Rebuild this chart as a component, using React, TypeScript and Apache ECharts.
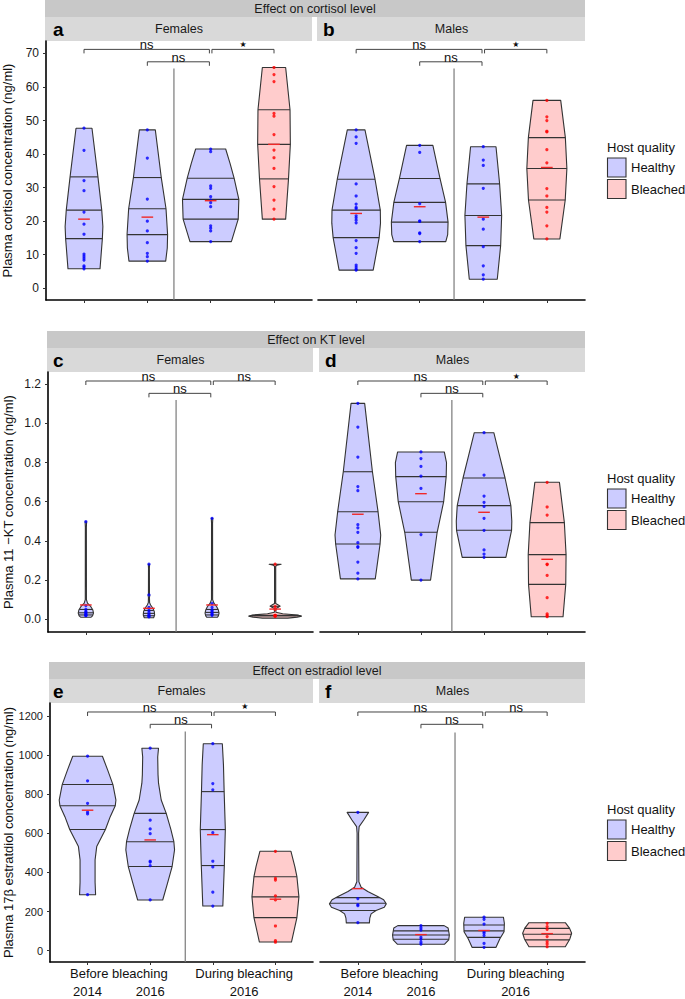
import React, { useEffect, useRef } from 'react';
import * as echarts from 'echarts';

// ---------------- data ----------------
const groupX = [1, 2, 3, 4];
const groupQuality = ['Healthy', 'Healthy', 'Healthy', 'Bleached'];
const hostQuality = ['Healthy', 'Bleached'];
const periodLabels = ['Before bleaching', 'During bleaching'];
const periodX = [1.5, 3.5];
const yearLabels = ['2014', '2016', '2016'];
const yearX = [1, 2, 3.5];
const rowTitles = ['Effect on cortisol level', 'Effect on KT level', 'Effect on estradiol level'];
const sexLabels = ['Females', 'Males'];
const panelLetters = ['a', 'b', 'c', 'd', 'e', 'f'];
const yTitles = [
  'Plasma cortisol concentration (ng/ml)',
  'Plasma 11 \u2212KT concentration (ng/ml)',
  'Plasma 17\u03b2 estratdiol concentration (ng/ml)',
];
const cortisolTicks = [0, 10, 20, 30, 40, 50, 60, 70];
const ktTicks = [0, 0.2, 0.4, 0.6, 0.8, 1.0, 1.2];
const estradiolTicks = [0, 200, 400, 600, 800, 1000, 1200];
const cortisolRange = [-3.5, 73.7];
const ktRange = [-0.065, 1.262];
const estradiolRange = [-58, 1266];

// violin outlines: [value, half width (x units)] from top to bottom
const cortisolFemaleOutline = [
  [[47.7, 0.126], [33.2, 0.22], [23.3, 0.28], [18.4, 0.298], [14.8, 0.29], [5.8, 0.253]],
  [[47.2, 0.126], [33.0, 0.22], [23.7, 0.295], [16.0, 0.32], [12.0, 0.315], [8.1, 0.29]],
  [[41.5, 0.237], [37.2, 0.306], [32.8, 0.37], [26.5, 0.445], [20.6, 0.435], [13.9, 0.327]],
  [[65.8, 0.184], [53.2, 0.253], [42.9, 0.258], [32.6, 0.229], [20.6, 0.184]],
];
const cortisolFemaleQuartiles = [[14.8, 23.3, 33.2], [16.0, 23.7, 33.0], [20.6, 26.5, 32.8], [32.6, 42.9, 53.2]];
const cortisolFemaleMeans = [20.6, 21.2, 26.1, 42.9];
const cortisolFemalePoints = [
  [47.7, 41.1, 32.1, 29.1, 22.7, 19.1, 16.1, 10.2, 9.6, 9.0, 8.4, 6.7, 6.3, 5.8],
  [47.2, 38.8, 26.6, 20.0, 17.1, 13.6, 10.4, 9.4, 8.1],
  [41.5, 40.7, 30.5, 29.8, 27.3, 26.3, 25.5, 24.3, 18.6, 17.9, 17.1, 13.9],
  [65.8, 63.7, 61.6, 52.1, 51.3, 45.8, 41.2, 38.9, 35.7, 30.3, 26.3, 23.6, 20.6],
];
const cortisolFemaleBrackets = [[1, 2.98, 71.2, 'ns'], [2, 2.98, 67.5, 'ns'], [3.02, 4, 71.2, '\u2605']];
const cortisolFemaleSeparator = [2.42, 65.5];

const cortisolMaleOutline = [
  [[47.2, 0.139], [32.5, 0.297], [23.3, 0.38], [19.4, 0.383], [15.1, 0.362], [5.4, 0.268]],
  [[42.6, 0.207], [32.7, 0.32], [25.6, 0.407], [19.7, 0.446], [16.0, 0.44], [13.9, 0.41]],
  [[42.2, 0.2], [31.1, 0.257], [21.7, 0.289], [12.7, 0.273], [2.7, 0.22]],
  [[56.0, 0.218], [44.9, 0.291], [35.7, 0.315], [26.3, 0.289], [14.7, 0.205]],
];
const cortisolMaleQuartiles = [[15.1, 23.3, 32.5], [19.7, 25.6, 32.7], [12.7, 21.7, 31.1], [26.3, 35.7, 44.9]];
const cortisolMaleMeans = [22.3, 24.3, 21.2, 36.0];
const cortisolMalePoints = [
  [47.2, 45.1, 43.2, 31.1, 27.5, 25.1, 24.1, 23.7, 21.6, 21.0, 20.3, 19.5, 14.2, 12.1, 10.4, 6.9, 6.3, 5.7, 5.4],
  [42.6, 40.5, 25.2, 20.1, 19.9, 16.5, 16.3, 13.9],
  [42.2, 38.2, 36.6, 29.8, 20.6, 17.6, 12.4, 6.7, 4.0, 2.7],
  [56.0, 51.1, 50.0, 46.8, 46.6, 41.3, 37.4, 29.7, 27.5, 24.1, 22.7, 18.6, 14.7],
];
const cortisolMaleBrackets = [[1, 2.98, 71.2, 'ns'], [2, 2.98, 67.5, 'ns'], [3.02, 4, 71.2, '\u2605']];
const cortisolMaleSeparator = [2.54, 65.5];

const ktFemaleOutline = [
  [[0.498, 0.012], [0.47, 0.008], [0.1, 0.009], [0.082, 0.026], [0.064, 0.079], [0.047, 0.111], [0.031, 0.121], [0.017, 0.106], [0.01, 0.079]],
  [[0.281, 0.01], [0.26, 0.007], [0.13, 0.008], [0.12, 0.012], [0.11, 0.008], [0.085, 0.01], [0.073, 0.026], [0.056, 0.063], [0.039, 0.085], [0.022, 0.09], [0.008, 0.074]],
  [[0.515, 0.012], [0.49, 0.008], [0.1, 0.009], [0.082, 0.03], [0.064, 0.074], [0.047, 0.1], [0.031, 0.111], [0.017, 0.1], [0.01, 0.085]],
  [[0.281, 0.095], [0.276, 0.03], [0.27, 0.009], [0.08, 0.009], [0.073, 0.05], [0.067, 0.08], [0.061, 0.05], [0.055, 0.012], [0.036, 0.012], [0.028, 0.12], [0.022, 0.35], [0.016, 0.418], [0.011, 0.35], [0.006, 0.2]],
];
const ktFemaleQuartiles = [[0.022, 0.033, 0.05], [0.018, 0.03, 0.045], [0.022, 0.035, 0.05], [0.017, 0.02, 0.066]];
const ktFemaleMeans = [0.073, 0.056, 0.073, 0.052];
const ktFemalePoints = [
  [0.498, 0.07, 0.05, 0.04, 0.035, 0.03, 0.025, 0.02, 0.02, 0.018],
  [0.281, 0.124, 0.06, 0.045, 0.035, 0.025, 0.02, 0.015, 0.012],
  [0.515, 0.08, 0.06, 0.045, 0.04, 0.03, 0.025, 0.02],
  [0.281, 0.065, 0.05, 0.02, 0.02, 0.018, 0.016, 0.015],
];
const ktFemaleBrackets = [[1, 2.98, 1.216, 'ns'], [2, 2.98, 1.153, 'ns'], [3.02, 4, 1.216, 'ns']];
const ktFemaleSeparator = [2.43, 1.119];

const ktMaleOutline = [
  [[1.102, 0.108], [0.753, 0.231], [0.549, 0.32], [0.43, 0.362], [0.384, 0.352], [0.206, 0.276]],
  [[0.854, 0.37], [0.8, 0.405], [0.728, 0.4], [0.6, 0.36], [0.444, 0.257], [0.2, 0.152]],
  [[0.952, 0.155], [0.838, 0.243], [0.721, 0.333], [0.58, 0.425], [0.5, 0.44], [0.454, 0.436], [0.316, 0.346]],
  [[0.699, 0.195], [0.493, 0.273], [0.33, 0.3], [0.178, 0.295], [0.013, 0.252]],
];
const ktMaleQuartiles = [[0.384, 0.549, 0.753], [0.444, 0.6, 0.728], [0.454, 0.58, 0.721], [0.178, 0.33, 0.493]];
const ktMaleMeans = [0.536, 0.641, 0.546, 0.306];
const ktMalePoints = [
  [1.102, 0.981, 0.828, 0.677, 0.656, 0.483, 0.467, 0.444, 0.391, 0.371, 0.367, 0.292, 0.235, 0.206],
  [0.854, 0.82, 0.78, 0.731, 0.668, 0.432, 0.2],
  [0.952, 0.736, 0.629, 0.597, 0.576, 0.515, 0.454, 0.354, 0.333, 0.316],
  [0.699, 0.573, 0.532, 0.281, 0.279, 0.224, 0.11, 0.027, 0.018, 0.013],
];
const ktMaleBrackets = [[1, 2.98, 1.216, 'ns'], [2, 2.98, 1.153, 'ns'], [3.02, 4, 1.216, '\u2605']];
const ktMaleSeparator = [2.49, 1.119];

const estradiolFemaleOutline = [
  [[994, 0.237], [924, 0.32], [849, 0.405], [770, 0.453], [741, 0.442], [685, 0.362], [619, 0.285], [532, 0.146], [464, 0.12], [350, 0.12], [286, 0.128]],
  [[1035, 0.133], [990, 0.12], [900, 0.125], [856, 0.133], [770, 0.176], [702, 0.256], [620, 0.33], [557, 0.378], [515, 0.389], [430, 0.35], [345, 0.277], [259, 0.2]],
  [[1058, 0.152], [950, 0.17], [813, 0.181], [619, 0.2], [435, 0.184], [228, 0.16]],
  [[508, 0.248], [430, 0.31], [378, 0.343], [275, 0.375], [169, 0.343], [44, 0.256]],
];
const estradiolFemaleQuartiles = [[619, 741, 849], [430, 557, 702], [435, 619, 813], [169, 275, 378]];
const estradiolFemaleMeans = [718, 566, 593, 263];
const estradiolFemalePoints = [
  [994, 868, 753, 708, 699, 286],
  [1035, 667, 622, 598, 457, 453, 435, 259],
  [1058, 854, 822, 603, 457, 428, 299, 228],
  [508, 370, 361, 280, 259, 126, 51, 43],
];
const estradiolFemaleBrackets = [[1, 2.98, 1220, 'ns'], [2, 2.98, 1157, 'ns'], [3.02, 4, 1220, '\u2605']];
const estradiolFemaleSeparator = [2.56, 1120];

const estradiolMaleOutline = [
  [[707, 0.17], [668, 0.094], [634, 0.02], [600, 0.012], [352, 0.016], [324, 0.052], [302, 0.157], [277, 0.314], [260, 0.409], [239, 0.45], [222, 0.419], [205, 0.288], [188, 0.21], [166, 0.189], [142, 0.183]],
  [[128, 0.367], [116, 0.43], [80, 0.45], [55, 0.44], [33, 0.375]],
  [[171, 0.307], [140, 0.322], [97, 0.317], [60, 0.249], [17, 0.19]],
  [[143, 0.288], [114, 0.356], [89, 0.388], [60, 0.36], [20, 0.288]],
];
const estradiolMaleQuartiles = [[205, 242, 271], [58, 80, 101], [68, 101, 131], [55, 84, 114]];
const estradiolMaleMeans = [317, 82, 103, 87];
const estradiolMalePoints = [
  [707, 266, 235, 230, 143],
  [128, 116, 105, 68, 58, 43, 33],
  [171, 160, 136, 97, 89, 77, 37, 17],
  [140, 123, 109, 72, 46, 34, 20],
];
const estradiolMaleBrackets = [[1, 2.98, 1220, 'ns'], [2, 2.98, 1157, 'ns'], [3.02, 4, 1220, 'ns']];
const estradiolMaleSeparator = [2.54, 1115];

// ---------------- styles / layout ----------------
const FONT = 'Liberation Sans';
const FILL: Record<string, string> = { Healthy: '#ccccff', Bleached: '#ffcccc' };
const DOT: Record<string, string> = { Healthy: '#0000ff', Bleached: '#ff0000' };
const OUTLINE = '#333333';
const MEAN_HALF = 0.092;
const GRIDS = [
  { left: 46, top: 41, width: 266, height: 259 },
  { left: 318, top: 41, width: 267, height: 259 },
  { left: 48, top: 372, width: 265, height: 260 },
  { left: 320, top: 372, width: 265, height: 260 },
  { left: 50, top: 703, width: 263, height: 259 },
  { left: 320, top: 703, width: 265, height: 259 },
];
const NAME_GAPS = [32, 33, 35];
const TICK_FONT = [12, 12, 11];
const RIGHT_EDGE = 585;

const rowTicks = [cortisolTicks, ktTicks, estradiolTicks];
const rowRanges = [cortisolRange, ktRange, estradiolRange];
const rowFormat = [(v: number) => String(v), (v: number) => v.toFixed(1), (v: number) => String(v)];

const panels = [
  { outline: cortisolFemaleOutline, quart: cortisolFemaleQuartiles, means: cortisolFemaleMeans, points: cortisolFemalePoints, brackets: cortisolFemaleBrackets, sep: cortisolFemaleSeparator },
  { outline: cortisolMaleOutline, quart: cortisolMaleQuartiles, means: cortisolMaleMeans, points: cortisolMalePoints, brackets: cortisolMaleBrackets, sep: cortisolMaleSeparator },
  { outline: ktFemaleOutline, quart: ktFemaleQuartiles, means: ktFemaleMeans, points: ktFemalePoints, brackets: ktFemaleBrackets, sep: ktFemaleSeparator },
  { outline: ktMaleOutline, quart: ktMaleQuartiles, means: ktMaleMeans, points: ktMalePoints, brackets: ktMaleBrackets, sep: ktMaleSeparator },
  { outline: estradiolFemaleOutline, quart: estradiolFemaleQuartiles, means: estradiolFemaleMeans, points: estradiolFemalePoints, brackets: estradiolFemaleBrackets, sep: estradiolFemaleSeparator },
  { outline: estradiolMaleOutline, quart: estradiolMaleQuartiles, means: estradiolMaleMeans, points: estradiolMalePoints, brackets: estradiolMaleBrackets, sep: estradiolMaleSeparator },
];

function interpWidth(outline: number[][], v: number) {
  for (let k = 0; k < outline.length - 1; k++) {
    const [v0, w0] = outline[k];
    const [v1, w1] = outline[k + 1];
    if (v <= v0 && v >= v1) {
      const t = v0 === v1 ? 0 : (v0 - v) / (v0 - v1);
      return w0 + t * (w1 - w0);
    }
  }
  return v > outline[0][0] ? outline[0][1] : outline[outline.length - 1][1];
}

function buildOption() {
  const xAxis: any[] = [];
  const yAxis: any[] = [];
  const series: any[] = [];
  const graphic: any[] = [];

  panels.forEach((p, pi) => {
    const row = Math.floor(pi / 2);
    const col = pi % 2;
    const isLeft = col === 0;
    const isBottom = row === 2;
    const [ymin, ymax] = rowRanges[row];

    xAxis.push({
      gridIndex: pi, type: 'value', min: 0.4, max: 4.6,
      axisLine: { show: true, onZero: false, lineStyle: { color: '#000', width: 1.6 } },
      axisTick: { show: true, customValues: groupX, length: 3, lineStyle: { color: '#333', width: 1 } },
      axisLabel: {
        show: isBottom, customValues: periodX, margin: 5, fontSize: 13, color: '#111', fontFamily: FONT,
        formatter: (v: number) => periodLabels[periodX.indexOf(v)] ?? '',
      },
      splitLine: { show: false },
    });
    const xIdx = xAxis.length - 1;
    if (isBottom) {
      xAxis.push({
        gridIndex: pi, type: 'value', min: 0.4, max: 4.6, position: 'bottom', offset: 0,
        axisLine: { show: false, onZero: false }, axisTick: { show: false },
        axisLabel: {
          show: true, customValues: yearX, margin: 23, fontSize: 13, color: '#111', fontFamily: FONT,
          formatter: (v: number) => yearLabels[yearX.indexOf(v)] ?? '',
        },
        splitLine: { show: false },
      });
    }
    yAxis.push({
      gridIndex: pi, type: 'value', min: ymin, max: ymax, show: isLeft,
      axisLine: { show: isLeft, onZero: false, lineStyle: { color: '#000', width: 1.6 } },
      axisTick: { show: isLeft, customValues: rowTicks[row], length: 3, lineStyle: { color: '#333', width: 1 } },
      axisLabel: { show: isLeft, customValues: rowTicks[row], margin: 7, fontSize: TICK_FONT[row], color: '#1a1a1a', fontFamily: FONT, formatter: rowFormat[row] },
      splitLine: { show: false },
      name: isLeft ? yTitles[row] : '', nameLocation: 'middle', nameRotate: 90, nameGap: NAME_GAPS[row],
      nameTextStyle: { fontSize: 13, color: '#111', fontFamily: FONT },
    });
    const yIdx = yAxis.length - 1;

    // separator
    series.push({
      type: 'custom', xAxisIndex: xIdx, yAxisIndex: yIdx, silent: true, clip: false, z: 1,
      data: [p.sep],
      encode: { x: 0, y: 1 },
      renderItem: (params: any, api: any) => {
        const a = api.coord([p.sep[0], p.sep[1]]);
        const bottom = params.coordSys.y + params.coordSys.height;
        return { type: 'line', shape: { x1: a[0], y1: a[1], x2: a[0], y2: bottom }, style: { stroke: '#7a7a7a', lineWidth: 1.2 } };
      },
    });

    // violins
    series.push({
      type: 'custom', xAxisIndex: xIdx, yAxisIndex: yIdx, silent: true, clip: false, z: 2,
      data: groupX.map((x, i) => [x, p.means[i]]),
      encode: { x: 0, y: 1 },
      renderItem: (params: any, api: any) => {
        const i = params.dataIndex;
        const x = groupX[i];
        const out = p.outline[i];
        const pts: number[][] = [];
        out.forEach(([v, w]) => pts.push(api.coord([x + w, v])));
        for (let k = out.length - 1; k >= 0; k--) pts.push(api.coord([x - out[k][1], out[k][0]]));
        const children: any[] = [{
          type: 'polygon', shape: { points: pts },
          style: { fill: FILL[groupQuality[i]], stroke: OUTLINE, lineWidth: 1.1, lineJoin: 'round' },
        }];
        p.quart[i].forEach((q: number) => {
          const w = interpWidth(out, q);
          const a = api.coord([x - w, q]);
          const b = api.coord([x + w, q]);
          children.push({ type: 'line', shape: { x1: a[0], y1: a[1], x2: b[0], y2: b[1] }, style: { stroke: OUTLINE, lineWidth: 1.1 } });
        });
        return { type: 'group', children };
      },
    });

    // points
    hostQuality.forEach((q) => {
      const data: number[][] = [];
      p.points.forEach((vals: number[], i: number) => {
        if (groupQuality[i] === q) vals.forEach((v) => data.push([groupX[i], v]));
      });
      series.push({
        type: 'scatter', name: q, xAxisIndex: xIdx, yAxisIndex: yIdx, silent: true, z: 3,
        symbol: 'circle', symbolSize: 3.2, itemStyle: { color: DOT[q] }, data,
      });
    });

    // means
    series.push({
      type: 'custom', xAxisIndex: xIdx, yAxisIndex: yIdx, silent: true, clip: false, z: 4,
      data: groupX.map((x, i) => [x, p.means[i]]),
      encode: { x: 0, y: 1 },
      renderItem: (params: any, api: any) => {
        const x = api.value(0);
        const m = api.value(1);
        const a = api.coord([x - MEAN_HALF, m]);
        const b = api.coord([x + MEAN_HALF, m]);
        return { type: 'line', shape: { x1: a[0], y1: a[1], x2: b[0], y2: b[1] }, style: { stroke: '#f02828', lineWidth: 1.4 } };
      },
    });

    // significance brackets
    series.push({
      type: 'custom', xAxisIndex: xIdx, yAxisIndex: yIdx, silent: true, clip: false, z: 4,
      data: p.brackets.map((b: any[]) => [b[0], b[2]]),
      encode: { x: 0, y: 1 },
      renderItem: (params: any, api: any) => {
        const b = p.brackets[params.dataIndex] as any[];
        const a = api.coord([b[0], b[2]]);
        const c = api.coord([b[1], b[2]]);
        const mid = api.coord([(b[0] + b[1]) / 2, b[2]]);
        const star = b[3] !== 'ns';
        return {
          type: 'group',
          children: [
            { type: 'polyline', shape: { points: [[a[0], a[1] + 4], a, c, [c[0], c[1] + 4]] }, style: { stroke: '#444', lineWidth: 1, fill: 'none' } },
            {
              type: 'text', x: mid[0], y: star ? mid[1] - 1 : mid[1] + 2,
              style: { text: b[3], align: 'center', verticalAlign: 'bottom', fontSize: star ? 8 : 13, fontFamily: star ? 'DejaVu Sans' : FONT, fill: '#111' },
            },
          ],
        };
      },
    });

    // strips
    const g = GRIDS[pi];
    const stripLeft = g.left - 1;
    const stripRight = isLeft ? g.left + g.width : RIGHT_EDGE;
    graphic.push({ type: 'rect', silent: true, shape: { x: stripLeft, y: g.top - 24, width: stripRight - stripLeft, height: 24 }, style: { fill: '#d9d9d9' } });
    graphic.push({ type: 'text', silent: true, x: (g.left + g.left + g.width) / 2, y: g.top - 12, style: { text: sexLabels[col], align: 'center', verticalAlign: 'middle', fontSize: 12.5, fontFamily: FONT, fill: '#1a1a1a' } });
    graphic.push({ type: 'text', silent: true, x: isLeft ? 53 : g.left + 5, y: g.top - 12, style: { text: panelLetters[pi], align: 'left', verticalAlign: 'middle', fontSize: 19, fontWeight: 'bold', fontFamily: FONT, fill: '#000' } });

    if (isLeft) {
      // row strip
      graphic.push({ type: 'rect', silent: true, shape: { x: stripLeft, y: g.top - 41, width: RIGHT_EDGE - stripLeft, height: 17 }, style: { fill: '#c8c8c8' } });
      graphic.push({ type: 'text', silent: true, x: (stripLeft + RIGHT_EDGE) / 2, y: g.top - 32.5, style: { text: rowTitles[row], align: 'center', verticalAlign: 'middle', fontSize: 12.5, fontFamily: FONT, fill: '#1a1a1a' } });
      // legend
      const ly = g.top + 106;
      graphic.push({ type: 'text', silent: true, x: 607, y: ly, style: { text: 'Host quality', align: 'left', verticalAlign: 'middle', fontSize: 13, fontFamily: FONT, fill: '#111' } });
      hostQuality.forEach((q, qi) => {
        const by = ly + 11 + qi * 21.5;
        graphic.push({ type: 'rect', silent: true, shape: { x: 607.5, y: by, width: 18.5, height: 19 }, style: { fill: FILL[q], stroke: OUTLINE, lineWidth: 1.1 } });
        graphic.push({ type: 'text', silent: true, x: 631, y: by + 9.5, style: { text: q, align: 'left', verticalAlign: 'middle', fontSize: 13, fontFamily: FONT, fill: '#111' } });
      });
    }
  });

  return {
    animation: false,
    backgroundColor: '#ffffff',
    textStyle: { fontFamily: FONT },
    grid: GRIDS.map((g) => ({ ...g, containLabel: false, outerBoundsMode: 'none' })),
    xAxis,
    yAxis,
    series,
    graphic,
  };
}

export default function App() {
  const ref = useRef<HTMLDivElement>(null);
  useEffect(() => {
    document.body.style.margin = '0';
    if (!ref.current) return;
    const chart = echarts.init(ref.current, undefined, { renderer: 'svg' });
    chart.setOption(buildOption() as any);
    return () => chart.dispose();
  }, []);
  return <div ref={ref} style={{ width: 685, height: 999, position: 'absolute', left: 0, top: 0 }} />;
}
